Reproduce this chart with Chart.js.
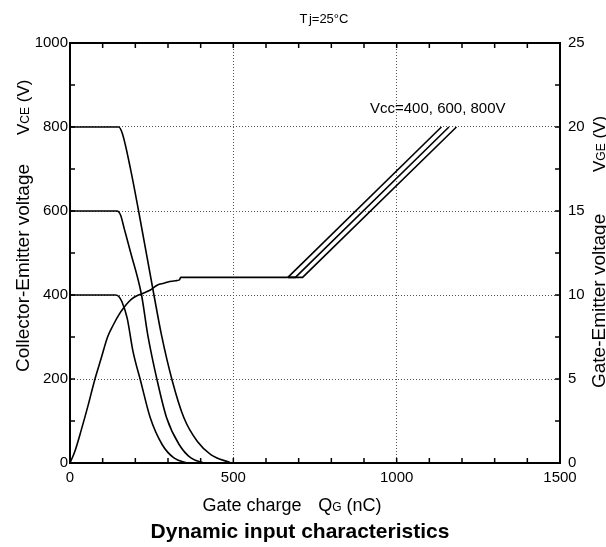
<!DOCTYPE html>
<html>
<head>
<meta charset="utf-8">
<script src="https://cdn.jsdelivr.net/npm/chart.js@4.4.1/dist/chart.umd.min.js"></script>
<style>
html,body{margin:0;padding:0;background:#fff;}
canvas{display:block;}
</style>
</head>
<body>
<canvas id="c" width="606" height="547"></canvas>
<script>
// ---- data ----
const xTickLabels = ['0','500','1000','1500'];
const vceTickLabels = ['0','200','400','600','800','1000'];
const vgeTickLabels = ['0','5','10','15','20','25'];

const qVce400 = [0,139,150,159,175,193,216,246,282,318,359];
const vVce400 = [400,400,396,384,345,265,196,107,44,12,0];

const qVce600 = [0,144,155,166,185,219,238,267,296,334,370,411];
const vVce600 = [600,600,590,558,503,400,305,196,107,44,12,0];

const qVce800 = [0,149,160,185,210,257,280,313,349,390,431,493];
const vVce800 = [800,800,785,701,600,400,305,196,107,51,20,0];

const qVgeCommon = [0,15,35,55,75,95,115,132,149,165,180,195,210,230,246,268,287,305,323,335,339,667];
const vVgeCommon = [0,0.7,2.0,3.4,4.9,6.2,7.5,8.2,8.8,9.25,9.6,9.85,10.0,10.15,10.3,10.6,10.7,10.8,10.85,10.9,11.05,11.05];

const qVge400 = [667,1137];
const vVge400 = [11.05,20];
const qVge600 = [667,690,1160];
const vVge600 = [11.05,11.05,20];
const qVge800 = [667,712,1183];
const vVge800 = [11.05,11.05,20];

const annotationText = 'Vcc=400, 600, 800V';
const tempText = 'j=25°C';

// ---- build ----
const pts = (qs, vs) => qs.map((q,i)=>({x:q,y:vs[i]}));
const FONT = '"Liberation Sans", Arial, Helvetica, sans-serif';

function ds(qs, vs, axis, smooth){
  return {
    data: pts(qs, vs),
    yAxisID: axis,
    borderColor: '#000',
    borderWidth: 1.6,
    pointRadius: 0,
    fill: false,
    cubicInterpolationMode: smooth ? 'monotone' : 'default',
    tension: 0
  };
}

function drawRich(ctx, parts, x, y, align){
  let total = 0;
  parts.forEach(p=>{ ctx.font = (p.bold?'bold ':'') + p.size + 'px ' + FONT; p.w = ctx.measureText(p.t).width; total += p.w; });
  let cx = align === 'center' ? x - total/2 : (align === 'right' ? x - total : x);
  ctx.textBaseline = 'alphabetic';
  ctx.textAlign = 'left';
  parts.forEach(p=>{ ctx.font = (p.bold?'bold ':'') + p.size + 'px ' + FONT; ctx.fillText(p.t, cx, y); cx += p.w; });
}

const decor = {
  id: 'decor',
  beforeDraw(chart){
    const ctx = chart.ctx;
    ctx.save();
    ctx.fillStyle = '#fff';
    ctx.fillRect(0,0,chart.width,chart.height);
    ctx.restore();
  },
  afterDraw(chart){
    const ctx = chart.ctx;
    const a = chart.chartArea;
    const xs = chart.scales.x, ys = chart.scales.y, y2 = chart.scales.y2;
    ctx.save();
    ctx.strokeStyle = '#000';
    ctx.fillStyle = '#000';
    ctx.setLineDash([]);
    // top border
    ctx.lineWidth = 2;
    ctx.beginPath(); ctx.moveTo(a.left-1, a.top); ctx.lineTo(a.right+1, a.top); ctx.stroke();
    // inward minor ticks
    ctx.lineWidth = 1.5;
    ctx.beginPath();
    for(let v=0; v<=1500; v+=100){
      const px = xs.getPixelForValue(v);
      ctx.moveTo(px, a.bottom); ctx.lineTo(px, a.bottom-5);
      ctx.moveTo(px, a.top); ctx.lineTo(px, a.top+5);
    }
    for(let v=0; v<=1000; v+=100){
      const py = ys.getPixelForValue(v);
      ctx.moveTo(a.left, py); ctx.lineTo(a.left+5, py);
    }
    for(let v=0; v<=25; v+=2.5){
      const py = y2.getPixelForValue(v);
      ctx.moveTo(a.right, py); ctx.lineTo(a.right-5, py);
    }
    ctx.stroke();

    // Tj label
    drawRich(ctx, [{t:'T',size:13},{t:' ',size:5},{t:tempText,size:13}], 324, 23, 'center');
    // Vcc annotation
    drawRich(ctx, [{t:annotationText,size:15}], 370, 113, 'left');

    // x title
    drawRich(ctx, [{t:'Gate charge',size:18},{t:'      ',size:10},{t:'Q',size:18},{t:'G',size:12},{t:' (nC)',size:18}], 292, 511, 'center');
    // main title
    drawRich(ctx, [{t:'Dynamic input characteristics',size:21,bold:true}], 300, 538, 'center');

    // left title (rotated)
    ctx.save();
    ctx.translate(29, 0);
    ctx.rotate(-Math.PI/2);
    drawRich(ctx, [{t:'Collector-Emitter voltage',size:19}], -372, 0, 'left');
    drawRich(ctx, [{t:'V',size:17},{t:'CE',size:12},{t:' (V)',size:17}], -135, 0, 'left');
    ctx.restore();

    // right title (rotated)
    ctx.save();
    ctx.translate(605, 0);
    ctx.rotate(-Math.PI/2);
    drawRich(ctx, [{t:'Gate-Emitter voltage',size:19}], -388, 0, 'left');
    drawRich(ctx, [{t:'V',size:17},{t:'GE',size:12},{t:' (V)',size:17}], -172, 0, 'left');
    ctx.restore();

    ctx.restore();
  }
};

const gridColor = (maxV) => (ctx => (ctx.tick && (ctx.tick.value===0 || ctx.tick.value===maxV)) ? 'rgba(0,0,0,0)' : '#555');

new Chart(document.getElementById('c'), {
  type: 'line',
  data: {
    datasets: [
      ds(qVce400, vVce400, 'y', true),
      ds(qVce600, vVce600, 'y', true),
      ds(qVce800, vVce800, 'y', true),
      ds(qVgeCommon, vVgeCommon, 'y2', true),
      ds(qVge400, vVge400, 'y2', false),
      ds(qVge600, vVge600, 'y2', false),
      ds(qVge800, vVge800, 'y2', false)
    ]
  },
  options: {
    responsive: false,
    animation: false,
    devicePixelRatio: 1,
    layout: { padding: { top: 43, left: 0, right: 0, bottom: 0 } },
    plugins: { legend: {display:false}, tooltip: {enabled:false}, title: {display:false} },
    scales: {
      x: {
        type: 'linear', min: 0, max: 1500,
        afterFit(s){ s.height = 84; },
        afterBuildTicks(s){ s.ticks = xTickLabels.map(t=>({value:Number(t)})); },
        ticks: { padding: 6, color:'#000', font:{family:FONT, size:15}, maxRotation:0, autoSkip:false,
                 callback: v => xTickLabels.find(t=>Number(t)===v) ?? '' },
        grid: { color: gridColor(1500), lineWidth:1, drawTicks:false },
        border: { display:true, color:'#000', width:2, dash:[1,2] }
      },
      y: {
        type: 'linear', position: 'left', min: 0, max: 1000,
        afterFit(s){ s.width = 70; },
        afterBuildTicks(s){ s.ticks = vceTickLabels.map(t=>({value:Number(t)})); },
        ticks: { padding: 2, color:'#000', font:{family:FONT, size:15}, autoSkip:false,
                 callback: v => vceTickLabels.find(t=>Number(t)===v) ?? '' },
        grid: { color: gridColor(1000), lineWidth:1, drawTicks:false },
        border: { display:true, color:'#000', width:2, dash:[1,2] }
      },
      y2: {
        type: 'linear', position: 'right', min: 0, max: 25,
        afterFit(s){ s.width = 46; },
        afterBuildTicks(s){ s.ticks = vgeTickLabels.map(t=>({value:Number(t)})); },
        ticks: { padding: 8, color:'#000', font:{family:FONT, size:15}, autoSkip:false,
                 callback: v => vgeTickLabels.find(t=>Number(t)===v) ?? '' },
        grid: { display:false, drawTicks:false },
        border: { display:true, color:'#000', width:2 }
      }
    }
  },
  plugins: [decor]
});
</script>
</body>
</html>
